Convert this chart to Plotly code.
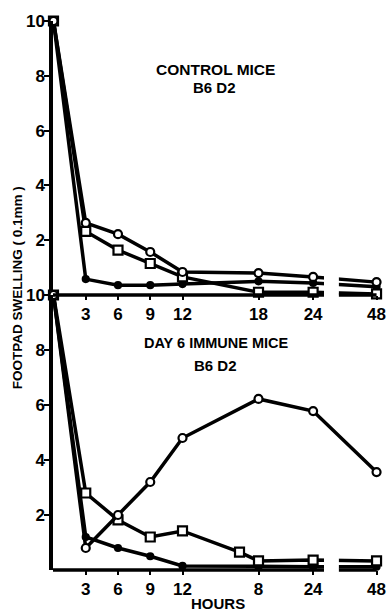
import numpy as np
import plotly.graph_objects as go

# ---------------- data ----------------
hours = [0, 3, 6, 9, 12, 18, 24, 48]

# Control mice (B6D2)
ctrl_circle = [10, 2.63, 2.22, 1.57, 0.84, 0.80, 0.66, 0.47]
ctrl_square = [10, 2.32, 1.64, 1.15, 0.66, 0.10, 0.10, 0.04]
ctrl_dot = [10, 0.58, 0.36, 0.36, 0.40, 0.50, 0.44, 0.30]

# Day 6 immune mice (B6D2)
imm_circle = [10, 0.80, 2.00, 3.20, 4.80, 6.22, 5.78, 3.56]
imm_square_hours = [0, 3, 6, 9, 12, 16.5, 18, 24, 48]
imm_square = [10, 2.80, 1.82, 1.20, 1.42, 0.65, 0.33, 0.36, 0.33]
imm_dot = [10, 1.20, 0.80, 0.50, 0.15, 0.12, 0.12, 0.12]

tick_hours = [3, 6, 9, 12, 18, 24, 48]
tick_labels_top = ["3", "6", "9", "12", "18", "24", "48"]
tick_labels_bottom = ["3", "6", "9", "12", "8", "24", "48"]
y_ticks = [2, 4, 6, 8, 10]
y_tick_labels = ["2", "4", "6", "8", "10"]

# ------------- axis scale (non-linear hour axis, as printed) -------------
axis_hours = [0, 3, 6, 9, 12, 18, 24, 48]
axis_pos = [0, 3, 6, 9, 12, 19.07, 24.15, 30.05]


def pos(h):
    return list(np.interp(h, axis_hours, axis_pos))


R0, R1 = -0.046, 30.65
W, H = 388, 612
ML, MR, MT, MB = 53, 2, 21, 42
PW, PH = W - ML - MR, H - MT - MB
SPLIT = 275 / PH

FONT = "Liberation Sans, Arial, sans-serif"
BLACK = "#000000"


def xfrac(p):
    return (p - R0) / (R1 - R0)


def px2paper(px, py):
    return (px - ML) / PW, (H - MB - py) / PH


fig = go.Figure()

LINE_W = 3.5


def add_series(xh, yv, symbol, size, filled, xa, ya):
    fig.add_trace(go.Scatter(
        x=pos(xh), y=yv, mode="lines+markers",
        line=dict(color=BLACK, width=LINE_W),
        marker=dict(symbol=symbol, size=size,
                    color=BLACK if filled else "white",
                    line=dict(color=BLACK, width=2.2)),
        cliponaxis=False, xaxis=xa, yaxis=ya, hoverinfo="skip"))


# top panel
add_series(hours, ctrl_dot, "circle", 6, True, "x", "y")
add_series(hours, ctrl_square, "square", 9, False, "x", "y")
add_series(hours, ctrl_circle, "circle", 8, False, "x", "y")
# bottom panel
add_series(hours, imm_dot, "circle", 6, True, "x2", "y2")
add_series(imm_square_hours, imm_square, "square", 9, False, "x2", "y2")
add_series(hours, imm_circle, "circle", 8, False, "x2", "y2")

tickfont = dict(family=FONT, size=17, color=BLACK, weight="bold")

xcommon = dict(range=[R0, R1], tickvals=pos(tick_hours), ticks="outside",
               ticklen=4, tickwidth=2, tickcolor=BLACK, showline=False,
               showgrid=False, zeroline=False, tickfont=tickfont, domain=[0, 1],
               ticklabeloverflow="allow")
ycommon = dict(range=[0, 10], tickvals=y_ticks, ticktext=y_tick_labels,
               ticks="outside", ticklen=5, tickwidth=2, tickcolor=BLACK,
               showline=True, linewidth=3.5, linecolor=BLACK, showgrid=False,
               zeroline=False, tickfont=tickfont, ticklabelstandoff=-4)

# axis break and x-axis lines
gap0, gap1 = xfrac((326 - 53.5) / 10.83), xfrac((341 - 53.5) / 10.83)
end48 = xfrac(axis_pos[-1])
shapes = []
for xr, yr in (("x domain", "y domain"), ("x2 domain", "y2 domain")):
    shapes.append(dict(type="rect", xref=xr, yref=yr, x0=gap0, x1=gap1,
                       y0=-0.03, y1=0.1, fillcolor="white",
                       line=dict(width=0), layer="above"))
    shapes.append(dict(type="line", xref=xr, yref=yr, x0=0, x1=gap0, y0=0, y1=0,
                       line=dict(color=BLACK, width=3.5), layer="above"))
    shapes.append(dict(type="line", xref=xr, yref=yr, x0=gap1, x1=end48, y0=0, y1=0,
                       line=dict(color=BLACK, width=3.5), layer="above"))

annotations = []


def label(text, px, py, size=15, angle=0):
    ax, ay = px2paper(px, py)
    annotations.append(dict(text=text, x=ax, y=ay, xref="paper", yref="paper",
                            showarrow=False, xanchor="center", yanchor="middle",
                            textangle=angle,
                            font=dict(family=FONT, size=size, color=BLACK, weight="bold")))


label("CONTROL MICE", 217, 69, size=15.5)
label("B6 D2", 216, 88)
label("DAY 6 IMMUNE MICE", 218, 343, size=14.5)
label("B6 D2", 217, 365)
label("HOURS", 219, 603)
label("FOOTPAD SWELLING ( 0.1mm )", 17, 288, size=13.5, angle=-90)

fig.update_layout(
    width=W, height=H, margin=dict(l=ML, r=MR, t=MT, b=MB),
    paper_bgcolor="white", plot_bgcolor="white", showlegend=False,
    xaxis=dict(anchor="y", ticktext=tick_labels_top, **xcommon),
    xaxis2=dict(anchor="y2", ticktext=tick_labels_bottom, **xcommon),
    yaxis=dict(anchor="x", domain=[SPLIT, 1], **ycommon),
    yaxis2=dict(anchor="x2", domain=[0, SPLIT], **ycommon),
    shapes=shapes, annotations=annotations,
)

fig.write_html(
    "out.html",
    config=dict(displayModeBar=False),
    post_script="document.body.style.margin='0';document.body.style.overflow='hidden';",
)
